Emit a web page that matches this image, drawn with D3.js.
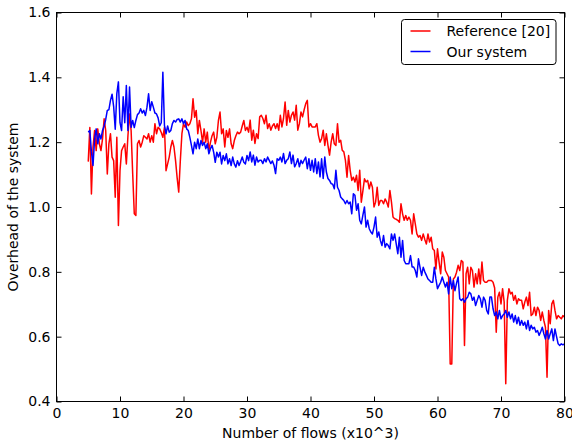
<!doctype html>
<html>
<head>
<script src="https://d3js.org/d3.v7.min.js"></script>
<style>
    body { margin: 0; background: #fff; }
    svg text { font-family: "DejaVu Sans", sans-serif; font-size: 14px; fill: #000; }
</style>
</head>
<body>
<script>
    // overhead values, one every 0.25 (x10^3 flows) from 5 to 80
    let flowStart = 5, flowStep = 0.25;

    let reference = [
        1.14, 1.245, 1.04, 1.185, 1.236, 1.174, 1.241, 1.195, 1.174, 1.21, 1.272, 1.236, 1.102, 1.195, 1.226, 1.154,
        1.143, 1.03, 1.215, 0.943, 1.112, 1.174, 1.185, 1.195, 1.133, 1.22, 1.287, 1.236, 1.102, 0.979, 0.974, 1.195,
        1.205, 1.185, 1.2, 1.22, 1.215, 1.21, 1.226, 1.2, 1.22, 1.2, 1.257, 1.226, 1.246, 1.241, 1.23, 1.215,
        1.246, 1.112, 1.133,
        1.154, 1.185, 1.205, 1.185, 1.143, 1.09, 1.046, 1.143, 1.226, 1.257, 1.246, 1.262, 1.251, 1.257, 1.272, 1.334,
        1.277, 1.298, 1.226, 1.267, 1.236, 1.2, 1.241, 1.2, 1.231, 1.174, 1.2, 1.22, 1.231, 1.195, 1.215, 1.267,
        1.293, 1.226, 1.241, 1.185, 1.236, 1.215, 1.241, 1.195, 1.18, 1.205, 1.22, 1.231, 1.226, 1.231, 1.25, 1.267,
        1.236, 1.246, 1.231,
        1.268, 1.206, 1.237, 1.196, 1.226, 1.211, 1.278, 1.283, 1.273, 1.257, 1.283, 1.242, 1.257, 1.237, 1.25, 1.257,
        1.242, 1.257, 1.237, 1.283, 1.247, 1.273, 1.324, 1.252, 1.298, 1.262, 1.283, 1.293, 1.268, 1.314, 1.237, 1.257,
        1.293, 1.278, 1.30, 1.319, 1.329, 1.247, 1.257, 1.247, 1.247, 1.247, 1.257, 1.221, 1.2, 1.211, 1.237, 1.19,
        1.226, 1.19, 1.16, 1.2,
        1.226, 1.195, 1.19, 1.257, 1.2, 1.206, 1.175, 1.17, 1.144, 1.092, 1.159, 1.113, 1.082, 1.092, 1.077, 1.098,
        1.051, 1.113, 1.015, 1.05, 1.087, 1.077, 1.082, 1.056, 1.077, 1.061, 1.0, 1.015, 1.061, 1.005, 1.02, 1.02,
        1.01, 1.025, 1.015, 1.0, 1.051, 1.015, 0.969, 0.964, 0.962, 0.959, 0.953, 1.01, 0.979, 0.959, 0.974, 0.959,
        0.969, 0.959, 0.917, 0.979,
        0.948, 0.917, 0.907, 0.912, 0.897, 0.917, 0.90, 0.886, 0.917, 0.892, 0.907, 0.871, 0.866, 0.809, 0.871, 0.83,
        0.794, 0.861, 0.845, 0.804, 0.794, 0.784, 0.516, 0.516, 0.778, 0.784, 0.799, 0.82, 0.804, 0.835, 0.83, 0.573,
        0.794, 0.814, 0.763, 0.814, 0.804, 0.753, 0.794, 0.763, 0.809, 0.763, 0.83, 0.773, 0.768, 0.768, 0.773, 0.773,
        0.773, 0.768, 0.75, 0.614, 0.722, 0.737, 0.701, 0.748, 0.707, 0.455, 0.712, 0.748, 0.732, 0.737, 0.712, 0.727,
        0.701, 0.717, 0.712, 0.712, 0.686, 0.707, 0.722, 0.696, 0.737, 0.665, 0.67, 0.691, 0.665, 0.691, 0.681, 0.65,
        0.676, 0.65, 0.629, 0.475, 0.681, 0.64, 0.701, 0.712, 0.681, 0.655, 0.665, 0.66, 0.655, 0.665, 0.66
    ];

    let ourSystem = [
        1.231, 1.236, 1.17, 1.128, 1.21, 1.241, 1.195, 1.226, 1.21, 1.236, 1.25, 1.27, 1.298, 1.30, 1.329, 1.348,
        1.31, 1.24, 1.35, 1.386, 1.26, 1.236, 1.34, 1.26, 1.375, 1.236, 1.37, 1.246, 1.267, 1.245, 1.267, 1.285,
        1.29, 1.303, 1.29, 1.298, 1.282, 1.308, 1.349, 1.298, 1.325, 1.308, 1.29, 1.287, 1.275, 1.25, 1.26, 1.416,
        1.252, 1.226, 1.25,
        1.231, 1.236, 1.257, 1.267, 1.262, 1.27, 1.272, 1.262, 1.272, 1.257, 1.267, 1.241, 1.236, 1.215, 1.19, 1.164,
        1.2, 1.18, 1.21, 1.18, 1.205, 1.19, 1.2, 1.18, 1.195, 1.164, 1.18, 1.19, 1.169, 1.138, 1.169, 1.154,
        1.169, 1.133, 1.159, 1.143, 1.164, 1.133, 1.149, 1.128, 1.154, 1.133, 1.123, 1.143, 1.128, 1.14, 1.154, 1.138,
        1.133, 1.159, 1.143,
        1.17, 1.139, 1.16, 1.129, 1.154, 1.139, 1.144, 1.144, 1.134, 1.149, 1.139, 1.154, 1.144, 1.134, 1.142, 1.129,
        1.103, 1.149, 1.144, 1.154, 1.139, 1.165, 1.134, 1.144, 1.149, 1.17, 1.134, 1.16, 1.124, 1.134, 1.149, 1.124,
        1.144, 1.134, 1.145, 1.154, 1.118, 1.149, 1.113, 1.144, 1.108, 1.149, 1.103, 1.139, 1.093, 1.149, 1.088, 1.154,
        1.108, 1.088, 1.082, 1.072,
        1.07, 1.056, 1.113, 1.061, 1.051, 1.031, 1.025, 1.02, 1.01, 1.02, 1.01, 1.015, 0.979, 1.041, 1.036, 0.99,
        1.01, 0.959, 0.948, 0.975, 1.0, 0.938, 0.959, 0.933, 0.923, 0.917, 0.938, 0.969, 0.907, 0.923, 0.897, 0.881,
        0.912, 0.876, 0.887, 0.881, 0.871, 0.917, 0.897, 0.917, 0.886, 0.856, 0.907, 0.845, 0.897, 0.835, 0.825, 0.825,
        0.825, 0.85, 0.815, 0.815,
        0.804, 0.784, 0.84, 0.814, 0.789, 0.814, 0.80, 0.789, 0.778, 0.773, 0.768, 0.768, 0.814, 0.778, 0.748, 0.758,
        0.768, 0.784, 0.768, 0.753, 0.768, 0.732, 0.784, 0.748, 0.773, 0.742, 0.765, 0.784, 0.717, 0.712, 0.717, 0.706,
        0.717, 0.722, 0.737, 0.732, 0.712, 0.722, 0.696, 0.712, 0.727, 0.717, 0.691, 0.722, 0.712, 0.681, 0.67, 0.722,
        0.722, 0.686, 0.665, 0.676, 0.655, 0.681, 0.655, 0.665, 0.67, 0.681, 0.66, 0.676, 0.655, 0.67, 0.645, 0.665,
        0.64, 0.66, 0.635, 0.65, 0.635, 0.645, 0.624, 0.65, 0.619, 0.635, 0.624, 0.629, 0.614, 0.619, 0.604, 0.615,
        0.629, 0.609, 0.593, 0.619, 0.593, 0.609, 0.624, 0.588, 0.624, 0.60, 0.578, 0.573, 0.578, 0.575, 0.578
    ];

    let xTicks = [0, 10, 20, 30, 40, 50, 60, 70, 80];
    let yTicks = [0.4, 0.6, 0.8, 1.0, 1.2, 1.4, 1.6];
    let seriesNames = ["Reference [20]", "Our system"];
    let seriesColors = ["#ff0000", "#0000ff"];

    let width = 572, height = 446;
    let plotLeft = 56.5, plotRight = 564.5, plotTop = 12.5, plotBottom = 401.5;

    let x = d3.scaleLinear().domain([0, 80]).range([plotLeft, plotRight]);
    let y = d3.scaleLinear().domain([0.4, 1.6]).range([plotBottom, plotTop]);

    let svg = d3.select("body").append("svg")
        .attr("width", width)
        .attr("height", height);

    let line = d3.line()
        .x((d, i) => x(flowStart + i * flowStep))
        .y(d => y(d));

    // series, in legend order
    [reference, ourSystem].forEach((data, k) => {
        svg.append("path")
            .datum(data)
            .attr("d", line)
            .attr("fill", "none")
            .attr("stroke", seriesColors[k])
            .attr("stroke-width", 1.5)
            .attr("stroke-linejoin", "round");
    });

    // ticks pointing inwards, on all four sides
    let tickLen = 5;
    let bottomAxis = d3.axisBottom(x).tickValues(xTicks).tickSizeInner(-tickLen).tickSizeOuter(0).tickPadding(7);
    let topAxis = d3.axisTop(x).tickValues(xTicks).tickSizeInner(-tickLen).tickSizeOuter(0).tickFormat("");
    let leftAxis = d3.axisLeft(y).tickValues(yTicks).tickSizeInner(-tickLen).tickSizeOuter(0).tickPadding(6).tickFormat(d3.format(".1f"));
    let rightAxis = d3.axisRight(y).tickValues(yTicks).tickSizeInner(-tickLen).tickSizeOuter(0).tickFormat("");

    svg.append("g").attr("transform", "translate(0," + plotBottom + ")").call(bottomAxis);
    svg.append("g").attr("transform", "translate(0," + plotTop + ")").call(topAxis);
    svg.append("g").attr("transform", "translate(" + plotLeft + ",0)").call(leftAxis);
    svg.append("g").attr("transform", "translate(" + plotRight + ",0)").call(rightAxis);

    svg.selectAll(".domain").remove();
    svg.selectAll(".tick line").attr("stroke", "#000");
    svg.selectAll(".tick text")
        .attr("font-family", "DejaVu Sans, sans-serif")
        .attr("font-size", 14)
        .attr("fill", "#000");

    // frame
    svg.append("rect")
        .attr("x", plotLeft).attr("y", plotTop)
        .attr("width", plotRight - plotLeft).attr("height", plotBottom - plotTop)
        .attr("fill", "none")
        .attr("stroke", "#000")
        .attr("stroke-width", 1);

    // axis titles
    svg.append("text")
        .attr("x", (plotLeft + plotRight) / 2)
        .attr("y", 437.5)
        .attr("text-anchor", "middle")
        .text("Number of flows (x10^3)");

    svg.append("text")
        .attr("transform", "translate(18," + (plotTop + plotBottom) / 2 + ") rotate(-90)")
        .attr("text-anchor", "middle")
        .text("Overhead of the system");

    // legend
    let legend = svg.append("g").attr("transform", "translate(401.5,19.5)");
    legend.append("rect")
        .attr("width", 154.5).attr("height", 45)
        .attr("rx", 3).attr("ry", 3)
        .attr("fill", "#fff")
        .attr("stroke", "#000")
        .attr("stroke-width", 1);

    let items = legend.selectAll("g.item")
        .data(seriesNames)
        .enter()
        .append("g")
        .attr("class", "item")
        .attr("transform", (d, i) => "translate(0," + (11.5 + i * 20.5) + ")");

    items.append("line")
        .attr("x1", 9).attr("x2", 29)
        .attr("stroke", (d, i) => seriesColors[i])
        .attr("stroke-width", 1.5);

    items.append("text")
        .attr("x", 45)
        .attr("dy", "0.36em")
        .text(d => d);
</script>
</body>
</html>
